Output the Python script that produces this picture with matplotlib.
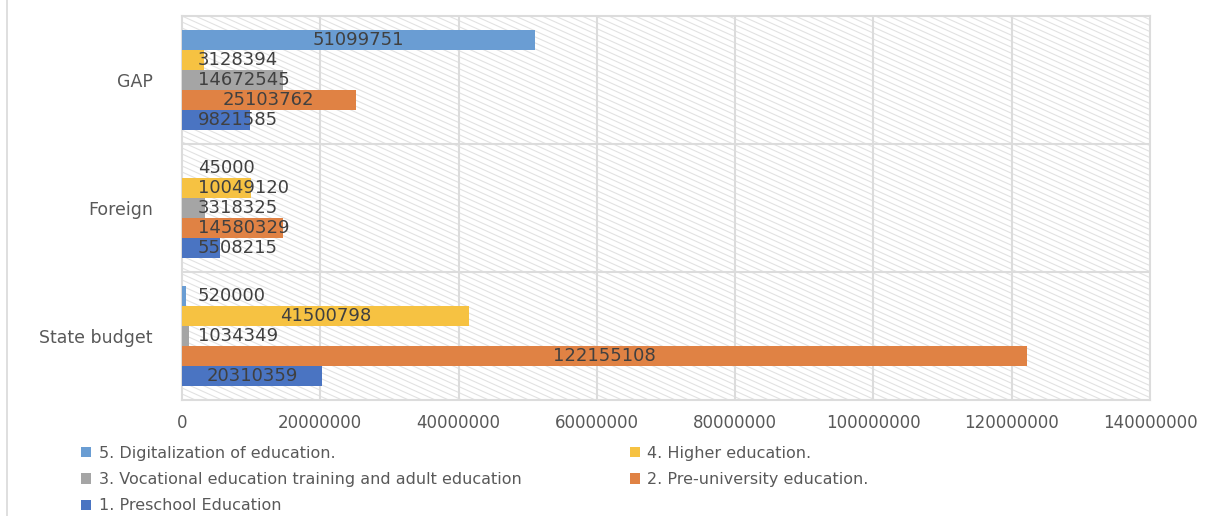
import matplotlib.pyplot as plt
from matplotlib.collections import LineCollection
from matplotlib.lines import Line2D
import numpy as np

sources = ["State budget", "Foreign", "GAP"]
series_names = [
    "1. Preschool Education",
    "2. Pre-university education.",
    "3. Vocational education training and adult education",
    "4. Higher education.",
    "5. Digitalization of education.",
]
preschool = [20310359, 5508215, 9821585]
pre_university = [122155108, 14580329, 25103762]
vocational = [1034349, 3318325, 14672545]
higher = [41500798, 10049120, 3128394]
digital = [520000, 45000, 51099751]
colors = ["#4A74C2", "#E08244", "#A5A5A5", "#F6C242", "#6A9DD3"]

series = [preschool, pre_university, vocational, higher, digital]

plt.rcParams['font.family'] = ['DejaVu Sans']

fig = plt.figure(figsize=(12.23, 5.16), dpi=100)
ax = fig.add_axes([182 / 1223, 1 - 400 / 516, 968 / 1223, 384 / 516])

# Excel-like diagonal pattern in the plot area
W, H = 968.0, 384.0
slope = 0.45
segs = []
for c in np.arange(0, H + slope * W + 6, 6.0):
    segs.append([(0, c / H), (1, (c - slope * W) / H)])
ax.add_collection(LineCollection(segs, colors="#E2E2E2", linewidths=0.8,
                                 transform=ax.transAxes, zorder=0))

y = np.arange(len(sources))
h = 0.156
for i, (vals, name, col) in enumerate(zip(series, series_names, colors)):
    pos = y + (i - 2) * h
    bars = ax.barh(pos, vals, height=h, color=col, label=name, zorder=3)
    for b, v in zip(bars, vals):
        yc = b.get_y() + b.get_height() / 2
        if v / 2 > 9.0e6:
            ax.text(v / 2, yc, str(v), ha="center", va="center",
                    fontsize=13, color="#404040", zorder=4)
        else:
            ax.annotate(str(v), (0, yc), xytext=(11.5, 0), textcoords="offset points",
                        ha="left", va="center", fontsize=13, color="#404040", zorder=4)

ax.set_xlim(0, 140000000)
ax.set_ylim(-0.5, 2.5)
ax.set_xticks(np.arange(0, 140000001, 20000000))
ax.set_xticklabels([str(t) for t in range(0, 140000001, 20000000)])
ax.set_yticks(y)
ax.set_yticklabels(sources)
ax.tick_params(axis="x", length=0, labelsize=12, colors="#595959", pad=10)
ax.tick_params(axis="y", length=0, labelsize=12.5, colors="#595959", pad=21)

for xv in range(20000000, 140000000, 20000000):
    ax.axvline(xv, color="#DCDCDC", linewidth=1.5, zorder=1)
for yv in [0.5, 1.5]:
    ax.axhline(yv, color="#DCDCDC", linewidth=1.5, zorder=1)
for s in ax.spines.values():
    s.set_color("#DCDCDC")
    s.set_linewidth(1.5)

# chart area border on the left
fig.add_artist(Line2D([7 / 1223, 7 / 1223], [0, 1], color="#D9D9D9", linewidth=1.2,
                      transform=fig.transFigure))

handles, labels = ax.get_legend_handles_labels()
order = [4, 2, 0, 3, 1]
fig.legend([handles[k] for k in order], [labels[k] for k in order],
           loc="upper left", bbox_to_anchor=(73 / 1223, 1 - 438 / 516),
           ncol=2, frameon=False, fontsize=11.5, labelcolor="#595959",
           handlelength=0.65, handleheight=0.6, handletextpad=0.45,
           columnspacing=6.8, labelspacing=0.7, borderpad=0)

fig.savefig("out.png", dpi=100)
